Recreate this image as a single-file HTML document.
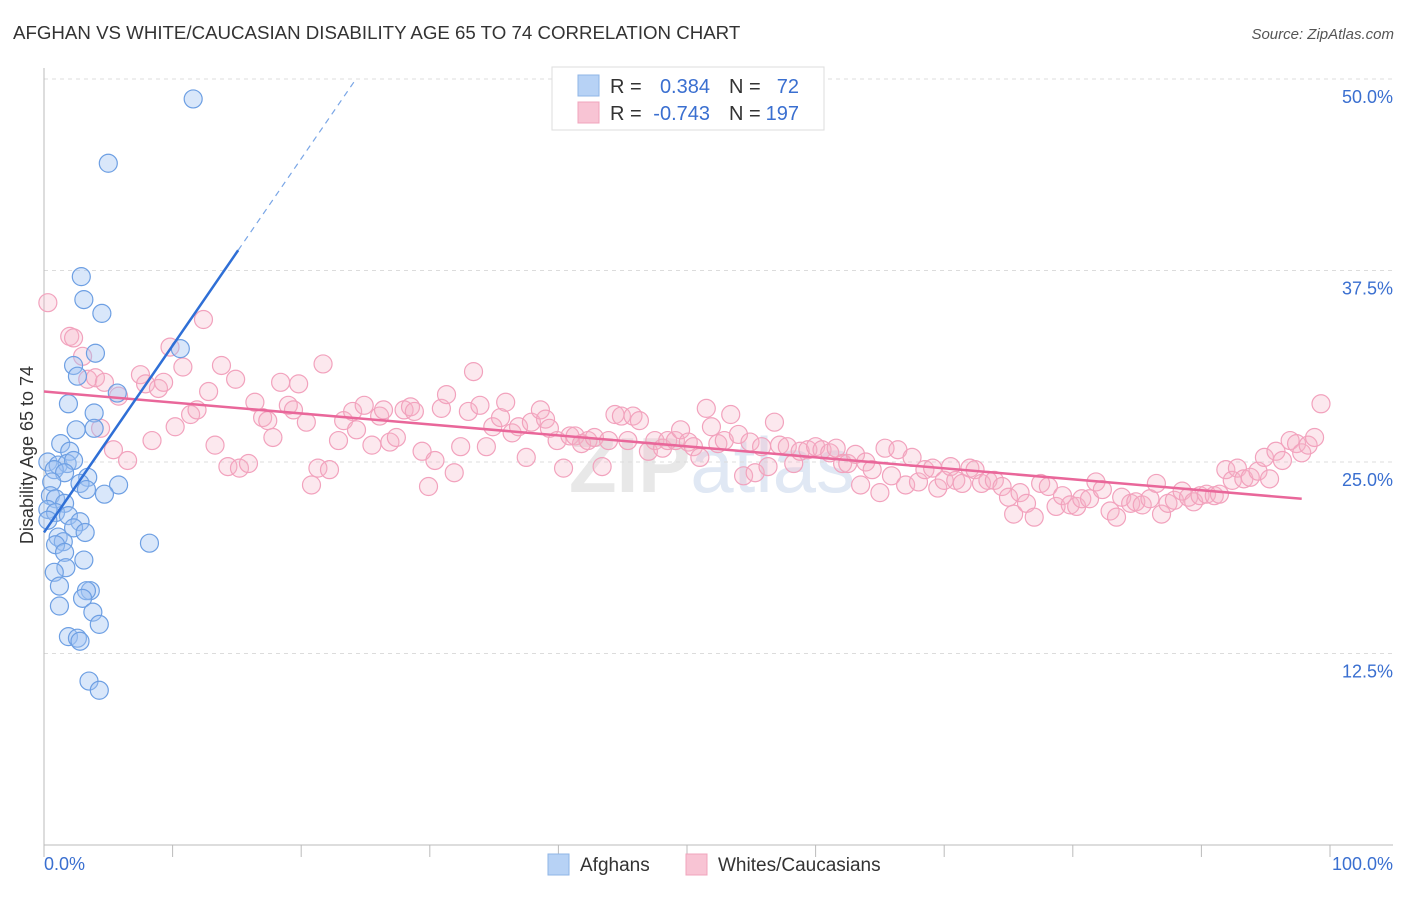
<!DOCTYPE html>
<html><head><meta charset="utf-8"><style>
body{margin:0;background:#fff;font-family:"Liberation Sans",sans-serif;}
svg text{font-family:"Liberation Sans",sans-serif;}
</style></head><body>
<svg id="chart" width="1406" height="892" xmlns="http://www.w3.org/2000/svg">
<text x="13" y="39" font-size="18.7" fill="#333">AFGHAN VS WHITE/CAUCASIAN DISABILITY AGE 65 TO 74 CORRELATION CHART</text>
<text x="1394" y="39" font-size="15" fill="#555" text-anchor="end" font-style="italic">Source: ZipAtlas.com</text>
<text x="712" y="492" font-size="78" fill="#e8e8e8" text-anchor="middle" font-weight="bold">ZIP<tspan fill="#e0e8f4" font-weight="normal">atlas</tspan></text>
<g id="grid"></g>
<g id="axes"></g>
<g id="marks"></g>
<text transform="translate(33,455) rotate(-90)" font-size="18" fill="#333" text-anchor="middle">Disability Age 65 to 74</text>
<g>
<rect x="552" y="67" width="272" height="63" fill="#fff" stroke="#ddd"/>
<rect x="578" y="75" width="21" height="21" fill="#b7d2f5" stroke="#8fb5e6"/>
<rect x="578" y="102" width="21" height="21" fill="#f8c4d4" stroke="#f0a4bc"/>
<text x="610" y="93" font-size="20" fill="#333">R = </text><text x="710" y="93" font-size="20" fill="#3a6fd0" text-anchor="end">0.384</text>
<text x="729" y="93" font-size="20" fill="#333">N = </text><text x="799" y="93" font-size="20" fill="#3a6fd0" text-anchor="end">72</text>
<text x="610" y="120" font-size="20" fill="#333">R = </text><text x="710" y="120" font-size="20" fill="#3a6fd0" text-anchor="end">-0.743</text>
<text x="729" y="120" font-size="20" fill="#333">N = </text><text x="799" y="120" font-size="20" fill="#3a6fd0" text-anchor="end">197</text>
</g>
<g>
<rect x="548" y="854" width="21" height="21" fill="#b7d2f5" stroke="#8fb5e6"/>
<text x="580" y="871" font-size="19" fill="#333">Afghans</text>
<rect x="686" y="854" width="21" height="21" fill="#f8c4d4" stroke="#f0a4bc"/>
<text x="718" y="871" font-size="19" fill="#333">Whites/Caucasians</text>
</g>
</svg>
<script>
const blueX=[11.6,5.0,2.9,3.1,4.5,4.0,10.6,2.3,2.6,5.7,1.9,3.9,3.9,2.5,1.3,2.0,0.3,1.1,1.8,2.3,0.8,1.6,3.4,0.6,2.8,5.8,3.3,4.7,0.5,0.9,1.6,0.3,0.9,1.9,2.8,0.3,2.3,3.2,1.1,1.5,8.2,0.9,1.6,3.1,1.7,0.8,1.2,3.6,3.3,3.0,1.2,3.8,4.3,1.9,2.6,2.8,3.5,4.3];
const blueY=[48.7,44.5,37.1,35.6,34.7,32.1,32.4,31.3,30.6,29.5,28.8,28.2,27.2,27.1,26.2,25.7,25.0,24.8,24.9,25.1,24.5,24.3,24.0,23.7,23.6,23.5,23.2,22.9,22.8,22.6,22.3,21.9,21.7,21.5,21.1,21.2,20.7,20.4,20.1,19.8,19.7,19.6,19.1,18.6,18.1,17.8,16.9,16.6,16.6,16.1,15.6,15.2,14.4,13.6,13.5,13.3,10.7,10.1];
const pinkX=[0.3,2.0,2.3,3.0,3.4,4.0,4.7,4.4,5.4,5.8,6.5,7.5,7.9,8.4,8.9,9.3,9.8,10.2,10.8,11.4,11.9,12.4,12.8,13.3,13.8,14.3,14.9,15.2,15.9,16.4,17.0,17.4,17.8,18.4,19.0,19.4,19.8,20.4,20.8,21.3,21.7,22.2,22.9,23.3,24.0,24.3,24.9,25.5,26.1,26.4,26.9,27.4,28.0,28.5,28.8,29.4,29.9,30.4,30.9,31.3,31.9,32.4,33.0,33.4,33.9,34.4,34.9,35.5,35.9,36.4,36.9,37.5,37.9,38.6,39.0,39.3,39.9,40.4,40.9,41.3,41.8,42.3,42.8,43.4,43.9,44.4,44.9,45.4,45.8,46.3,47.0,47.5,48.1,48.5,49.1,49.5,50.1,50.5,51.0,51.5,51.9,52.4,52.9,53.4,54.0,54.4,54.9,55.3,55.8,56.3,56.8,57.2,57.8,58.3,58.8,59.4,60.0,60.5,61.1,61.6,62.1,62.5,63.1,63.5,63.9,64.4,65.0,65.4,65.9,66.4,67.0,67.5,68.0,68.5,69.1,69.5,70.0,70.5,70.9,71.4,72.0,72.4,72.9,73.4,73.9,74.5,75.0,75.4,75.9,76.4,77.0,77.5,78.1,78.7,79.2,79.8,80.3,80.7,81.3,81.8,82.3,82.9,83.4,83.8,84.5,84.9,85.4,86.0,86.5,86.9,87.4,87.9,88.5,89.0,89.4,89.9,90.4,91.0,91.4,91.9,92.4,92.8,93.3,93.8,94.4,94.9,95.3,95.8,96.3,96.9,97.4,97.8,98.3,98.8,99.3];
const pinkY=[35.4,33.2,33.1,31.9,30.4,30.5,30.2,27.2,25.8,29.3,25.1,30.7,30.1,26.4,29.8,30.2,32.5,27.3,31.2,28.1,28.4,34.3,29.6,26.1,31.3,24.7,30.4,24.6,24.9,28.9,27.9,27.7,26.6,30.2,28.7,28.4,30.1,27.6,23.5,24.6,31.4,24.5,26.4,27.7,28.3,27.1,28.7,26.1,28.0,28.4,26.3,26.6,28.4,28.6,28.3,25.7,23.4,25.1,28.5,29.4,24.3,26.0,28.3,30.9,28.7,26.0,27.3,27.9,28.9,26.9,27.3,25.3,27.6,28.4,27.8,27.2,26.4,24.6,26.7,26.7,26.2,26.4,26.6,24.7,26.4,28.1,28.0,26.4,28.0,27.7,25.7,26.4,25.9,26.4,26.4,27.1,26.3,26.0,25.3,28.5,27.3,26.2,26.4,28.1,26.8,24.1,26.3,24.3,26.0,24.7,27.6,26.1,26.0,24.9,25.7,25.8,26.0,25.8,25.6,25.9,24.9,24.9,25.5,23.5,25.0,24.5,23.0,25.9,24.1,25.8,23.5,25.3,23.7,24.5,24.6,23.3,23.8,24.7,23.8,23.6,24.6,24.5,23.6,23.8,23.8,23.4,22.7,21.6,23.0,22.3,21.4,23.6,23.4,22.1,22.8,22.2,22.1,22.6,22.6,23.7,23.2,21.8,21.4,22.7,22.3,22.4,22.2,22.6,23.6,21.6,22.3,22.5,23.1,22.7,22.4,22.8,22.9,22.8,22.9,24.5,23.8,24.6,23.9,24.0,24.4,25.3,23.9,25.7,25.1,26.4,26.2,25.6,26.1,26.6,28.8];
const yTicks=[12.5,25.0,37.5,50.0];
const xTickLabels=["0.0%","100.0%"];
const blueTrend=[20.4,1.22];
const pinkTrend=[29.6,-0.0716];
const blueSolidEnd=15.1, blueDashEnd=24.2;

const NS="http://www.w3.org/2000/svg";
const L=44,R=1330,B=845,T=79;
const sx=v=>L+(R-L)*v/100;
const sy=v=>B-(B-T)*v/50;
function mk(tag,attrs,parent){const e=document.createElementNS(NS,tag);for(const k in attrs)e.setAttribute(k,attrs[k]);parent.appendChild(e);return e;}
const grid=document.getElementById('grid'),axes=document.getElementById('axes'),marks=document.getElementById('marks');
yTicks.forEach(t=>{
  const g=mk('line',{x1:L,x2:1393,y1:sy(t),y2:sy(t),stroke:'#dcdcdc','stroke-dasharray':'4,4'},grid);
  
  
  const tx=mk('text',{x:1393,y:sy(t)+24,'font-size':18,fill:'#3a6fd0','text-anchor':'end'},axes);
  tx.textContent=t.toFixed(1)+'%';
  
  
});
const ax=mk('line',{x1:L,x2:L,y1:68,y2:B,stroke:'#bbb'},axes);


const bx=mk('line',{x1:L,x2:1393,y1:B,y2:B,stroke:'#bbb'},axes);


for(let i=0;i<=10;i++){
  const tk=mk('line',{x1:sx(i*10),x2:sx(i*10),y1:B,y2:B+12,stroke:'#bbb'},axes);
  
  
}
[[0,'start',44],[100,'end',1393]].forEach((d,i)=>{
  const tx=mk('text',{x:d[2],y:870,'font-size':18,fill:'#3a6fd0','text-anchor':d[1]},axes);
  tx.textContent=xTickLabels[i];
  
  
});
pinkX.forEach((x,i)=>{
  const c=mk('circle',{cx:sx(x),cy:sy(pinkY[i]),r:9,fill:'rgba(246,178,200,0.3)',stroke:'#f2a2bd','stroke-width':1.2},marks);
  
  
});
blueX.forEach((x,i)=>{
  const c=mk('circle',{cx:sx(x),cy:sy(blueY[i]),r:9,fill:'rgba(160,196,242,0.4)',stroke:'#6d9fe3','stroke-width':1.2},marks);
  
  
});
const pl=mk('line',{x1:sx(0),y1:sy(pinkTrend[0]),x2:sx(97.8),y2:sy(pinkTrend[0]+pinkTrend[1]*97.8),stroke:'#e9679a','stroke-width':2.5},marks);


const bl=mk('line',{x1:sx(0),y1:sy(blueTrend[0]),x2:sx(blueSolidEnd),y2:sy(blueTrend[0]+blueTrend[1]*blueSolidEnd),stroke:'#2f6fd6','stroke-width':2.5},marks);


const bd=mk('line',{x1:sx(blueSolidEnd),y1:sy(blueTrend[0]+blueTrend[1]*blueSolidEnd),x2:sx(blueDashEnd),y2:sy(blueTrend[0]+blueTrend[1]*blueDashEnd),stroke:'#7aa6e6','stroke-width':1.2,'stroke-dasharray':'6,5'},marks);


</script>
</body></html>
